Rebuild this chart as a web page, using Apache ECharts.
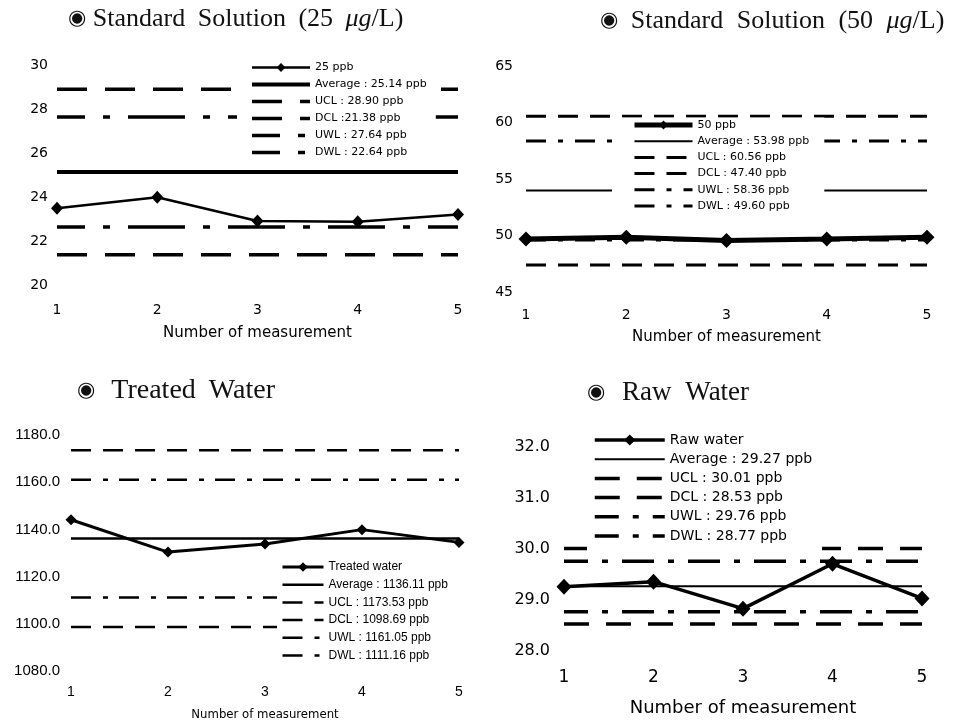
<!DOCTYPE html>
<html><head><meta charset="utf-8">
<script src="https://cdn.jsdelivr.net/npm/echarts@6/dist/echarts.min.js"></script>
<style>html,body{margin:0;padding:0;background:#fff}#c{width:957px;height:722px}</style>
</head><body><div id="c"></div>
<script>
// ---------- DATA ----------
const measurements = ['1', '2', '3', '4', '5'];

// Standard Solution (25 µg/L)
const std25Values = [23.49, 23.99, 22.91, 22.88, 23.21];
const std25Levels = [25.14, 28.90, 21.38, 27.64, 22.64];   // Average, UCL, DCL, UWL, DWL
const std25Labels = ['25 ppb', 'Average : 25.14 ppb', 'UCL : 28.90 ppb', 'DCL :21.38 ppb', 'UWL : 27.64 ppb', 'DWL : 22.64 ppb'];
const std25Axis = [20, 30, 2];   // min, max, interval

// Standard Solution (50 µg/L)
const std50Values = [49.68, 49.85, 49.55, 49.68, 49.85];
const std50Levels = [53.98, 60.56, 47.40, 58.36, 49.60];
const std50Labels = ['50 ppb', 'Average : 53.98 ppb', 'UCL : 60.56 ppb', 'DCL : 47.40 ppb', 'UWL : 58.36 ppb', 'DWL : 49.60 ppb'];
const std50Axis = [45, 65, 5];

// Treated Water
const treatedValues = [1144.1, 1130.4, 1133.8, 1139.9, 1134.5];
const treatedLevels = [1136.11, 1173.53, 1098.69, 1161.05, 1111.16];
const treatedLabels = ['Treated water', 'Average : 1136.11 ppb', 'UCL : 1173.53 ppb', 'DCL : 1098.69 ppb', 'UWL : 1161.05 ppb', 'DWL : 1111.16 ppb'];
const treatedAxis = [1080, 1180, 20];

// Raw Water
const rawValues = [29.26, 29.36, 28.83, 29.71, 29.03];
const rawLevels = [29.27, 30.01, 28.53, 29.76, 28.77];
const rawLabels = ['Raw water', 'Average : 29.27 ppb', 'UCL : 30.01 ppb', 'DCL : 28.53 ppb', 'UWL : 29.76 ppb', 'DWL : 28.77 ppb'];
const rawAxis = [28, 32, 1];

const panelTitles = [
  '◉ Standard Solution (25 μg/L)',
  '◉ Standard Solution (50 μg/L)',
  '◉ Treated Water',
  '◉ Raw Water'
];
const axisTitle = 'Number of measurement';

// ---------- STYLE / LAYOUT ----------
const SANS = 'DejaVu Sans';
const INK = '#000';
const panels = [
  { values: std25Values, levels: std25Levels, labels: std25Labels, axis: std25Axis, dec: 0,
    grid: {left: 57, top: 65, width: 401, height: 220},
    yLab: {fontFamily: SANS, fontSize: 14, margin: 9},
    xLab: {fontFamily: SANS, fontSize: 14, margin: 18},
    name: {fontFamily: SANS, fontSize: 15, gap: 41},
    dataW: 2.5, sym: [12, 13], avgW: 4, ctlW: 3.5,
    clDash: [30, 18], clOff: 0, wlDash: [57, 18, 7, 18], wlOff: 29,
    legend: {left: 237, top: 58, padding: [4, 9, 6, 13], itemWidth: 58, itemHeight: 11, itemGap: 6, fontFamily: SANS, fontSize: 11},
    title: {left: 68, top: 6, size: 26, firstGap: 0, gap: 3} },
  { values: std50Values, levels: std50Levels, labels: std50Labels, axis: std50Axis, dec: 0,
    grid: {left: 526, top: 66, width: 401, height: 226},
    yLab: {fontFamily: SANS, fontSize: 14, margin: 13},
    xLab: {fontFamily: SANS, fontSize: 14, margin: 16},
    name: {fontFamily: SANS, fontSize: 15, gap: 38},
    dataW: 5, sym: [15, 15], avgW: 2, ctlW: 3,
    clDash: [20, 12], clOff: 0, wlDash: [20, 12, 5, 12], wlOff: 0,
    legend: {left: 612, top: 117.5, padding: [2, 15, 8, 20], itemWidth: 58, itemHeight: 11, itemGap: 5.2, fontFamily: SANS, fontSize: 11},
    title: {left: 600, top: 8, size: 26, firstGap: 3, gap: 3.5} },
  { values: treatedValues, levels: treatedLevels, labels: treatedLabels, axis: treatedAxis, dec: 1,
    grid: {left: 71, top: 435, width: 388, height: 237},
    yLab: {fontFamily: 'Liberation Sans', fontSize: 15, margin: 11},
    xLab: {fontFamily: 'Liberation Sans', fontSize: 14, margin: 14},
    name: {fontFamily: 'DejaVu Sans Condensed', fontSize: 13, gap: 37},
    dataW: 3, sym: [11, 11], avgW: 2.5, ctlW: 2.5,
    clDash: [20, 12], clOff: 0, wlDash: [20, 12, 5, 11], wlOff: 0,
    legend: {left: 277, top: 555, padding: [6, 12, 4, 4], itemWidth: 41, itemHeight: 12, itemGap: 5.7, fontFamily: 'Liberation Sans', fontSize: 12},
    title: {left: 77, top: 377, size: 28, firstGap: 4.5, gap: 3} },
  { values: rawValues, levels: rawLevels, labels: rawLabels, axis: rawAxis, dec: 1,
    grid: {left: 564, top: 447, width: 358, height: 204},
    yLab: {fontFamily: SANS, fontSize: 16, margin: 14},
    xLab: {fontFamily: SANS, fontSize: 17, margin: 18},
    name: {fontFamily: SANS, fontSize: 18, gap: 48},
    dataW: 3.5, sym: [15, 16], avgW: 2, ctlW: 3.5,
    clDash: [25, 17], clOff: 0, wlDash: [32, 14, 6, 14], wlOff: 8,
    legend: {left: 587, top: 425, padding: [8, 10, 11, 6], itemWidth: 70, itemHeight: 14, itemGap: 5.2, fontFamily: SANS, fontSize: 14},
    title: {left: 587, top: 379, size: 27, firstGap: 5, gap: 3.5} }
];

// title text -> rich text (same characters, wider word spacing like the original typesetting)
function richTitle(t) {
  const words = t.split(' ');
  return words.map((w, k) => {
    let s = w === '◉' ? '{c|◉}' : w.replace('μg', '{i|μg}');
    if (k < words.length - 1) s += (k === 0 ? '{f| }' : '{s| }');
    return s;
  }).join('');
}

const option = {
  animation: false,
  backgroundColor: '#fff',
  title: [], grid: [], xAxis: [], yAxis: [], legend: [], series: []
};

panels.forEach((p, i) => {
  const fs = p.title.size;
  option.title.push({
    text: richTitle(panelTitles[i]), left: p.title.left, top: p.title.top, padding: 0,
    textStyle: {
      fontFamily: 'Liberation Serif', fontSize: fs, fontWeight: 'normal', color: '#111',
      rich: {
        c: {fontFamily: 'DejaVu Sans', fontSize: 21, color: '#111'},
        f: {fontFamily: 'Liberation Serif', fontSize: fs, padding: [0, p.title.firstGap, 0, p.title.firstGap]},
        s: {fontFamily: 'Liberation Serif', fontSize: fs, padding: [0, p.title.gap, 0, p.title.gap]},
        i: {fontFamily: 'Liberation Serif', fontStyle: 'italic', fontSize: fs, color: '#111'}
      }
    }
  });
  option.grid.push(Object.assign({containLabel: false}, p.grid));
  option.xAxis.push({
    gridIndex: i, type: 'category', data: measurements, boundaryGap: false,
    axisLine: {show: false}, axisTick: {show: false}, splitLine: {show: false},
    axisLabel: {color: INK, fontFamily: p.xLab.fontFamily, fontSize: p.xLab.fontSize, margin: p.xLab.margin},
    name: axisTitle, nameLocation: 'middle', nameGap: p.name.gap,
    nameTextStyle: {color: INK, fontFamily: p.name.fontFamily, fontSize: p.name.fontSize, verticalAlign: 'top'}
  });
  option.yAxis.push({
    gridIndex: i, type: 'value', min: p.axis[0], max: p.axis[1], interval: p.axis[2],
    axisLine: {show: false}, axisTick: {show: false}, splitLine: {show: false},
    axisLabel: {color: INK, fontFamily: p.yLab.fontFamily, fontSize: p.yLab.fontSize, margin: p.yLab.margin,
      formatter: v => v.toFixed(p.dec)}
  });
  // control lines: Average, UCL, DCL, UWL, DWL
  const styles = [
    {width: p.avgW, type: 'solid', off: 0},
    {width: p.ctlW, type: p.clDash, off: p.clOff},
    {width: p.ctlW, type: p.clDash, off: p.clOff},
    {width: p.ctlW, type: p.wlDash, off: p.wlOff},
    {width: p.ctlW, type: p.wlDash, off: p.wlOff}
  ];
  p.levels.forEach((lv, k) => {
    option.series.push({
      name: p.labels[k + 1], type: 'line', xAxisIndex: i, yAxisIndex: i,
      data: measurements.map(() => lv),
      symbol: 'none', silent: true, z: 2,
      lineStyle: {color: INK, width: styles[k].width, type: styles[k].type, dashOffset: styles[k].off, cap: 'butt'}
    });
  });
  option.series.push({
    name: p.labels[0], type: 'line', xAxisIndex: i, yAxisIndex: i,
    data: p.values, symbol: 'diamond', symbolSize: p.sym, z: 3, silent: true,
    itemStyle: {color: INK}, lineStyle: {color: INK, width: p.dataW}
  });
  option.legend.push({
    orient: 'vertical', left: p.legend.left, top: p.legend.top, padding: p.legend.padding,
    itemWidth: p.legend.itemWidth, itemHeight: p.legend.itemHeight, itemGap: p.legend.itemGap,
    backgroundColor: '#fff', selectedMode: false, z: 10,
    lineStyle: {width: 'inherit'},
    textStyle: {color: INK, fontFamily: p.legend.fontFamily, fontSize: p.legend.fontSize},
    data: p.labels.map((nm, k) => k === 0 ? {name: nm} : {name: nm, itemStyle: {opacity: 0}})
  });
});

const chart = echarts.init(document.getElementById('c'), null, {renderer: 'canvas'});
chart.setOption(option);
</script>
</body></html>
